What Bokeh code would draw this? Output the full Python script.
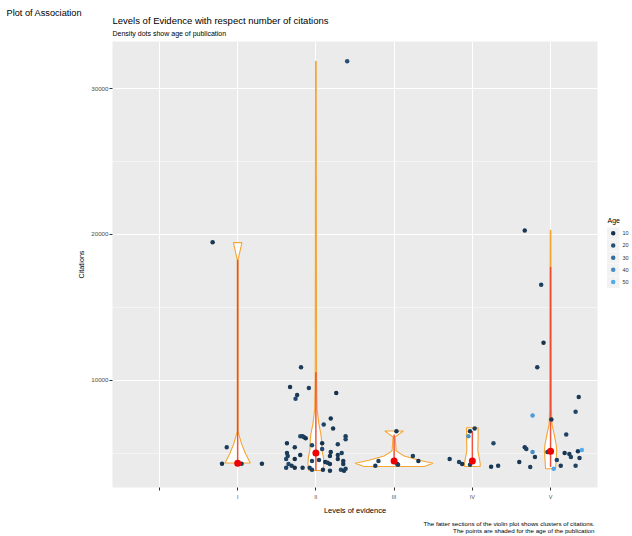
import numpy as np
from bokeh.plotting import figure
from bokeh.layouts import column, row
from bokeh.models import Range1d, FixedTicker, LinearColorMapper, ColumnDataSource
from bokeh.transform import transform
from bokeh.core.properties import value
from bokeh.embed import file_html
from bokeh.resources import INLINE

FONT = "Liberation Sans"

level_labels = ["", "I", "II", "III", "IV", "V"]
level_pos = [1, 2, 3, 4, 5, 6]

# ---- jittered points: level index, horizontal jitter (category units), citations, age
pt_level = ([2] * 5 + [3] * 51 + [4] * 7 + [5] * 10 + [6] * 26)
pt_jitter = [
    -0.32, -0.14, -0.20, 0.05, 0.31,
    0.40, -0.33, -0.09, 0.26, -0.24, -0.26, -0.19, 0.19, 0.10, 0.22,
    -0.20, -0.17, -0.15, -0.13, 0.38, 0.38, -0.37, -0.05, 0.08, -0.27,
    0.28, 0.08, 0.19, -0.37, -0.20, 0.33, 0.28, -0.36, 0.18, -0.38,
    -0.27, 0.04, 0.28, -0.05, 0.35, 0.12, 0.15, 0.18, -0.35, -0.31,
    0.35, -0.27, -0.38, -0.17, -0.08, -0.05, 0.09, 0.18, 0.32, 0.36, 0.38,
    0.03, 0.24, 0.31, -0.20, -0.24, 0.04, 0.05,
    0.03, -0.03, -0.05, -0.29, -0.17, -0.13, -0.03, 0.27, 0.24, 0.33,
    -0.33, -0.12, -0.09, -0.17, 0.36, 0.32, -0.23, 0.01, 0.20, -0.33,
    -0.31, -0.23, -0.20, -0.04, 0.08, 0.18, 0.24, 0.26, 0.35, 0.40,
    0.37, -0.40, -0.26, 0.04, 0.13, 0.32,
]
pt_cit = [
    19460, 5400, 4257, 4257, 4257,
    31890, 9527, 9460, 9120, 8990, 8720, 10880, 7365, 6960, 6690,
    6150, 6150, 6080, 6010, 6150, 5945, 5675, 5540, 5675, 5405,
    5610, 5270, 5070, 5000, 4865, 5000, 4865, 4800, 4800, 4595,
    4595, 4530, 4595, 4460, 4460, 4390, 4325, 4255, 4255, 4120,
    4255, 3990, 3990, 3990, 3990, 3850, 3850, 3785, 3850, 3785, 3920,
    6490, 4800, 4460, 4460, 4120, 4255, 4190,
    6690, 6490, 6150, 4595, 4390, 4255, 4190, 5675, 4055, 4120,
    20270, 16550, 12570, 10880, 8850, 7840, 7570, 7300, 6280, 5400,
    5270, 5070, 4730, 5070, 4530, 5000, 4930, 4730, 5130, 5200,
    4660, 4390, 4050, 3920, 4120, 4120,
]
pt_age = [
    12, 14, 10, 15, 12,
    20, 12, 15, 10, 13, 18, 14, 11, 16, 12,
    19, 13, 15, 11, 14, 17, 12, 16, 10, 13,
    15, 18, 12, 14, 11, 16, 13, 15, 12, 17,
    10, 14, 12, 16, 13, 11, 15, 12, 18, 14,
    13, 10, 16, 12, 15, 14, 11, 13, 17, 12, 15,
    12, 14, 11, 16, 13, 12, 15,
    14, 12, 42, 13, 16, 11, 15, 18, 12, 14,
    12, 15, 11, 14, 13, 17, 45, 12, 16, 13,
    15, 40, 12, 14, 16, 11, 13, 15, 12, 50,
    14, 12, 15, 48, 13, 16,
]

# ---- violin outlines (citations, half width in category units)
vio_i_cit = [4320, 4930, 5610, 6490, 18240, 18840, 19440]
vio_i_w = [0.162, 0.102, 0.051, 0.004, 0.004, 0.029, 0.055]
vio_ii_cit = [3800, 4250, 4700, 5200, 5800, 6300, 7000, 8000, 10540, 31890]
vio_ii_w = [0.090, 0.102, 0.096, 0.077, 0.073, 0.064, 0.038, 0.015, 0.008, 0.004]
vio_iii_cit = [4080, 4300, 4500, 4800, 5150, 6100, 6350, 6510]
vio_iii_w = [0.384, 0.499, 0.320, 0.128, 0.026, 0.013, 0.077, 0.119]
vio_iv_cit = [4075, 4300, 4600, 5160, 6000, 6735]
vio_iv_w = [0.100, 0.100, 0.090, 0.070, 0.074, 0.074]
vio_v_cit = [3920, 4480, 5155, 5610, 6300, 6960, 8000, 17770, 20290]
vio_v_w = [0.064, 0.070, 0.079, 0.070, 0.045, 0.019, 0.010, 0.005, 0.004]

vio_levels = [2, 3, 4, 5, 6]
vio_cits = [vio_i_cit, vio_ii_cit, vio_iii_cit, vio_iv_cit, vio_v_cit]
vio_ws = [vio_i_w, vio_ii_w, vio_iii_w, vio_iv_w, vio_v_w]

# red line ranges and medians
red_low = [4320, 3800, 4460, 4460, 4050]
red_high = [18240, 10540, 6280, 6490, 17770]
medians = [4300, 5000, 4460, 4460, 5130]

legend_ages = [10, 20, 30, 40, 50]

# ---- colour scale (ggplot default continuous gradient)
lo = np.array([0x13, 0x2B, 0x43])
hi = np.array([0x56, 0xB1, 0xF7])
palette = ["#%02x%02x%02x" % tuple(int(round(c)) for c in lo + (hi - lo) * t)
           for t in np.linspace(0, 1, 256)]
AGE_LOW, AGE_HIGH = 8, 52
mapper = LinearColorMapper(palette=palette, low=AGE_LOW, high=AGE_HIGH)


def age_color(a):
    idx = int(round((a - AGE_LOW) / (AGE_HIGH - AGE_LOW) * 255))
    return palette[max(0, min(255, idx))]


def blank_fig(w, h, x0, x1, y0, y1):
    f = figure(width=w, height=h, output_backend="svg", toolbar_location=None,
               x_range=Range1d(x0, x1), y_range=Range1d(y1, y0),
               x_axis_type=None, y_axis_type=None, min_border=0)
    f.grid.visible = False
    f.outline_line_color = None
    f.background_fill_color = "white"
    f.border_fill_color = "white"
    return f


def txt(f, x, y, s, size, align="left", color="black"):
    f.text(x=[x], y=[y], text=[s], text_font=value(FONT), text_font_size=value(size),
           text_color=color, text_align=align, text_baseline="middle")


# ---- main panel
p = figure(width=600, height=476, output_backend="svg", toolbar_location=None,
           x_range=Range1d(0.4, 6.6), y_range=Range1d(2635, 33243),
           min_border_left=112, min_border_right=3, min_border_top=0,
           min_border_bottom=23)
p.background_fill_color = "#EBEBEB"
p.border_fill_color = "white"
p.outline_line_color = None

p.xgrid.ticker = FixedTicker(ticks=level_pos)
p.xgrid.grid_line_color = "white"
p.xgrid.grid_line_width = 1.1
p.ygrid.ticker = FixedTicker(ticks=[10000, 20000, 30000], minor_ticks=[5000, 15000, 25000])
p.ygrid.grid_line_color = "white"
p.ygrid.grid_line_width = 1.1
p.ygrid.minor_grid_line_color = "white"
p.ygrid.minor_grid_line_width = 0.5

p.xaxis.ticker = FixedTicker(ticks=level_pos)
p.xaxis.major_label_overrides = {pos: lab for pos, lab in zip(level_pos, level_labels)}
p.yaxis.ticker = FixedTicker(ticks=[10000, 20000, 30000])
for ax in (p.xaxis[0], p.yaxis[0]):
    ax.axis_line_color = None
    ax.major_tick_line_color = "#333333"
    ax.major_tick_out = 3
    ax.major_tick_in = 0
    ax.minor_tick_line_color = None
    ax.major_label_text_font = FONT
    ax.major_label_text_color = "#4D4D4D"
    ax.axis_label_text_font = FONT
    ax.axis_label_text_font_style = "normal"
    ax.axis_label_text_color = "black"
p.xaxis.axis_label = "Levels of evidence"
p.xaxis.major_label_text_font_size = "5.5px"
p.xaxis.axis_label_text_font_size = "7.5px"
p.xaxis.major_label_standoff = 3
p.xaxis.axis_label_standoff = 3
p.yaxis.axis_label = "Citations"
p.yaxis.major_label_text_font_size = "6.2px"
p.yaxis.axis_label_text_font_size = "7.2px"
p.yaxis.major_label_standoff = 1
p.yaxis.axis_label_standoff = 2

vxs, vys = [], []
for lev, cits, ws in zip(vio_levels, vio_cits, vio_ws):
    c = np.array(cits, dtype=float)
    w = np.array(ws, dtype=float)
    vxs.append(list(lev + w) + list((lev - w)[::-1]))
    vys.append(list(c) + list(c[::-1]))
p.patches(vxs, vys, fill_color="white", line_color="#F5A531", line_width=1.1)

p.segment(x0=vio_levels, y0=red_low, x1=vio_levels, y1=red_high,
          line_color="#F0402A", line_width=1.5, line_alpha=0.9)

src = ColumnDataSource(dict(x=np.array(pt_level) + np.array(pt_jitter), y=pt_cit, age=pt_age))
p.scatter("x", "y", source=src, size=4.5, line_color=None,
          fill_color=transform("age", mapper))

p.scatter(vio_levels, medians, size=7, color="#F00000", line_color=None)

# ---- title strip (page coordinates)
top = blank_fig(632, 41, 0, 632, 0, 41)
txt(top, 6, 12, "Plot of Association", "9.2px")
txt(top, 112, 20, "Levels of Evidence with respect number of citations", "9.5px")
txt(top, 112, 33, "Density dots show age of publication", "7px")

# ---- legend strip
leg = blank_fig(32, 476, 600, 632, 41, 517)
txt(leg, 607, 232, "Age", "7px")
key_y = [245.7 + 13.0 * i for i in range(len(legend_ages))]
leg.rect(x=[612.7] * len(legend_ages), y=key_y, width=12.5, height=12.5,
         fill_color="#F2F2F2", line_color=None)
leg.scatter(x=[612.7] * len(legend_ages), y=key_y, size=4.5, line_color=None,
            fill_color=[age_color(a) for a in legend_ages])
for a, yy in zip(legend_ages, key_y):
    txt(leg, 622, yy, str(a), "5.5px", color="#333333")

# ---- caption strip
bot = blank_fig(632, 19, 0, 632, 517, 536)
txt(bot, 594, 523, "The fatter sections of the violin plot shows clusters of citations.", "6.2px", align="right")
txt(bot, 594, 529.5, "The points are shaded for the age of the publication", "6.2px", align="right")

layout = column(top, row(p, leg), bot)
open("out.html", "w").write(file_html(layout, INLINE))
